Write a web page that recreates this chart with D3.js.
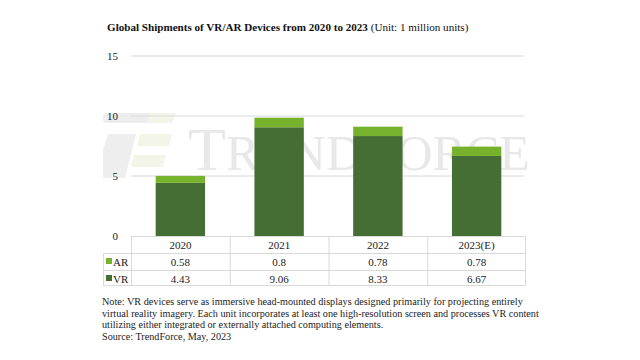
<!DOCTYPE html>
<html>
<head>
<meta charset="utf-8">
<script src="https://cdn.jsdelivr.net/npm/d3@7"></script>
<style>
  body { margin: 0; background: #fff; }
  svg { font-family: "Liberation Serif", "Times New Roman", serif; }
</style>
</head>
<body>
<div class="canvas"></div>
<script>
const years = ['2020', '2021', '2022', '2023(E)']
const vr = [4.43, 9.06, 8.33, 6.67]
const ar = [0.58, 0.8, 0.78, 0.78]
const yTicks = [0, 5, 10, 15]

const vrColor = '#446e33'
const arColor = '#76b22b'

const svg = d3.select('.canvas').append('svg')
  .attr('width', 640)
  .attr('height', 360)

const plot = { left: 131, right: 526, top: 56, bottom: 236 }

const x = d3.scaleBand()
  .domain(years)
  .range([plot.left, plot.right])
  .paddingInner(0.5)
  .paddingOuter(0.25)

const xCol = d3.scaleBand()
  .domain(years)
  .range([plot.left, plot.right])

const y = d3.scaleLinear()
  .domain([0, 15])
  .range([plot.bottom, plot.top])

// title
const title = svg.append('text')
  .attr('x', 107)
  .attr('y', 31)
  .attr('font-size', 11.1)
  .attr('fill', '#111')
title.append('tspan').attr('font-weight', 'bold').text('Global Shipments of VR/AR Devices from 2020 to 2023 ')
title.append('tspan').text('(Unit: 1 million units)')

// watermark
const wm = svg.append('g').attr('opacity', 0.9)
wm.append('rect').attr('x', 103).attr('y', 113).attr('width', 50).attr('height', 10).attr('rx', 4).attr('fill', '#ececec')
wm.append('polygon').attr('points', '150,113 176,113 172,123 146,123').attr('fill', '#f1f5e6')
wm.append('polygon').attr('points', '108,134 136,134 125,178 103,178 103,150').attr('fill', '#ededed')
wm.append('polygon').attr('points', '140,134 172,134 169,146 137,146').attr('fill', '#f1f5e6')
wm.append('polygon').attr('points', '134,155 166,155 163,167 131,167').attr('fill', '#f1f5e6')
const wmText = wm.append('text')
  .attr('x', 188)
  .attr('y', 170)
  .attr('fill', '#e6e6e6')
  .attr('font-size', 62)
wmText.append('tspan').text('T')
wmText.append('tspan').attr('font-size', 50).text('REND')
wmText.append('tspan').text('F')
wmText.append('tspan').attr('font-size', 50).text('ORCE')

// gridlines
svg.append('g')
  .selectAll('line')
  .data(yTicks.filter(d => d > 0))
  .enter().append('line')
  .attr('x1', plot.left)
  .attr('x2', plot.right - 2)
  .attr('y1', d => y(d))
  .attr('y2', d => y(d))
  .attr('stroke', '#d9d9d9')
  .attr('stroke-width', 1)

// y labels
svg.append('g')
  .selectAll('text')
  .data(yTicks)
  .enter().append('text')
  .attr('x', 118)
  .attr('y', d => y(d) + 4)
  .attr('text-anchor', 'end')
  .attr('font-size', 11)
  .attr('fill', '#222')
  .text(d => d)

// bars
const bars = svg.append('g')
bars.selectAll('.vr')
  .data(years)
  .enter().append('rect')
  .attr('x', d => x(d))
  .attr('width', x.bandwidth())
  .attr('y', (d, i) => y(vr[i]))
  .attr('height', (d, i) => y(0) - y(vr[i]))
  .attr('fill', vrColor)

bars.selectAll('.ar')
  .data(years)
  .enter().append('rect')
  .attr('x', d => x(d))
  .attr('width', x.bandwidth())
  .attr('y', (d, i) => y(vr[i] + ar[i]))
  .attr('height', (d, i) => y(vr[i]) - y(vr[i] + ar[i]))
  .attr('fill', arColor)

// data table
const rowY = [236, 253, 270, 285]
const tableLeft = 103
const tbl = svg.append('g').attr('stroke', '#d9d9d9').attr('stroke-width', 1)
tbl.append('line').attr('x1', plot.left).attr('x2', plot.right).attr('y1', rowY[0] + 0.5).attr('y2', rowY[0] + 0.5)
rowY.slice(1).forEach(ry => {
  tbl.append('line').attr('x1', tableLeft).attr('x2', plot.right).attr('y1', ry + 0.5).attr('y2', ry + 0.5)
})
tbl.append('line').attr('x1', tableLeft + 0.5).attr('x2', tableLeft + 0.5).attr('y1', rowY[1]).attr('y2', rowY[3])
years.forEach(d => {
  tbl.append('line').attr('x1', xCol(d) + 0.5).attr('x2', xCol(d) + 0.5).attr('y1', rowY[0]).attr('y2', rowY[3])
})
tbl.append('line').attr('x1', plot.right - 0.5).attr('x2', plot.right - 0.5).attr('y1', rowY[0]).attr('y2', rowY[3])

const cellText = (val, col, row) => svg.append('text')
  .attr('x', xCol(col) + xCol.bandwidth() / 2)
  .attr('y', rowY[row] + 12.5)
  .attr('text-anchor', 'middle')
  .attr('font-size', 11)
  .attr('fill', '#222')
  .text(val)

years.forEach((d, i) => {
  cellText(d, d, 0)
  cellText(ar[i], d, 1)
  cellText(vr[i], d, 2)
})

const legendRows = [{ name: 'AR', color: arColor, row: 1 }, { name: 'VR', color: vrColor, row: 2 }]
legendRows.forEach(l => {
  svg.append('rect')
    .attr('x', 106).attr('y', rowY[l.row] + 5).attr('width', 6).attr('height', 6)
    .attr('fill', l.color)
  svg.append('text')
    .attr('x', 113).attr('y', rowY[l.row] + 12.5)
    .attr('font-size', 11).attr('fill', '#222')
    .text(l.name)
})

// note
const notes = [
  'Note: VR devices serve as immersive head-mounted displays designed primarily for projecting entirely',
  'virtual reality imagery. Each unit incorporates at least one high-resolution screen and processes VR content',
  'utilizing either integrated or externally attached computing elements.',
  'Source: TrendForce, May, 2023'
]
svg.append('g')
  .selectAll('text')
  .data(notes)
  .enter().append('text')
  .attr('x', 102)
  .attr('y', (d, i) => 305 + i * 11.5)
  .attr('font-size', 10.2)
  .attr('fill', '#222')
  .text(d => d)
</script>
</body>
</html>
